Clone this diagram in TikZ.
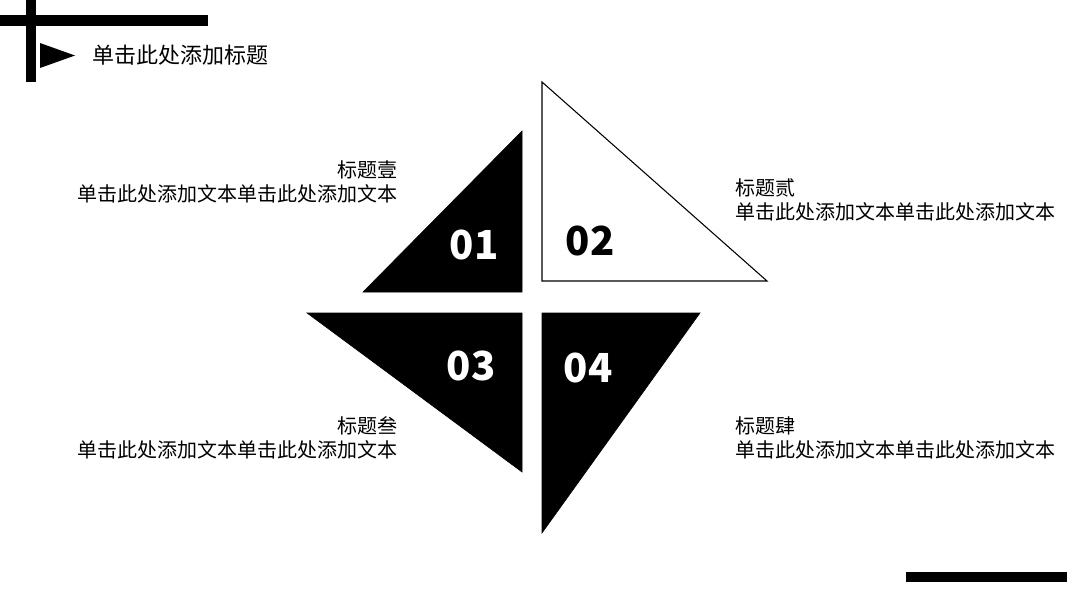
\documentclass[tikz,border=0pt]{standalone}
\usepackage{fontspec}
\setmainfont{Noto Sans CJK SC}
\usepackage{tikz}
\colorlet{colmotif}{black}
\tikzstyle{bord}=[line width=0.8pt]
\tikzstyle{motif}=[fill,colmotif]
\tikzstyle{numero}=[inner sep=0pt,font=\fontsize{30}{30}\selectfont\bfseries]
\tikzstyle{texte}=[inner sep=0pt,font=\fontsize{15}{17.5}\selectfont]

\begin{document}
\begin{tikzpicture}[x=0.75pt,y=-0.75pt]
\useasboundingbox (0,0) rectangle (1067,600);

% coin en haut a gauche
\fill (26,0) rectangle (36,82);
\fill (0,15) rectangle (208,26);
\fill (40,43) -- (75,55.5) -- (40,68) -- cycle;
\node[inner sep=0pt,anchor=west,font=\fontsize{16.5}{16.5}\selectfont] (titre) at (92,55) {单击此处添加标题};

% les quatre triangles
\draw[motif] (363,292) -- (522,292) -- (522,131) -- cycle;
\draw[bord] (542,82) -- (542,281) -- (767,281) -- cycle;
\draw[motif] (307,313) -- (522,313) -- (522,472) -- cycle;
\draw[motif] (542,313) -- (700,313) -- (542,533) -- cycle;

\node[numero,white] (n1) at (474,245) {01};
\node[numero] (n2) at (590,241) {02};
\node[numero,white] (n3) at (471,366) {03};
\node[numero,white] (n4) at (588,368) {04};

% textes
\node[texte,anchor=east,align=right] (t1) at (398,182) {标题壹\\单击此处添加文本单击此处添加文本};
\node[texte,anchor=west,align=left] (t2) at (735,200) {标题贰\\单击此处添加文本单击此处添加文本};
\node[texte,anchor=east,align=right] (t3) at (398,438) {标题叁\\单击此处添加文本单击此处添加文本};
\node[texte,anchor=west,align=left] (t4) at (735,438) {标题肆\\单击此处添加文本单击此处添加文本};

% barre en bas a droite
\fill (906,572) rectangle (1067,582);

\end{tikzpicture}
\end{document}
